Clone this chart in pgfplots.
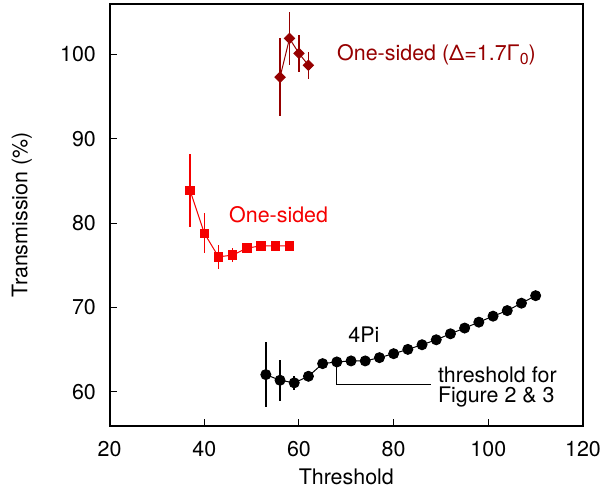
\documentclass[border=0pt]{standalone}
\usepackage{pgfplots}
\pgfplotsset{compat=1.18}
\usepackage{pgfplotstable}
\usepackage{fontspec}
\setmainfont{TeX Gyre Heros}
\definecolor{darkred}{RGB}{150,0,0}
\definecolor{myred}{RGB}{245,0,0}

% x  y  err
\pgfplotstableread{
x y e
53 62.04 3.9
56 61.37 2.45
59 61.06 0.85
62 61.84 0.4
65 63.34 0.2
68 63.54 0.2
71 63.66 0.2
74 63.66 0.2
77 64.05 0.2
80 64.52 0.2
83 65.03 0.2
86 65.58 0.2
89 66.17 0.2
92 66.88 0.2
95 67.56 0.2
98 68.26 0.2
101 68.97 0.2
104 69.63 0.2
107 70.51 0.2
110 71.40 0.2
}\fourpi

\pgfplotstableread{
x y e
37 83.88 4.3
40 78.81 2.4
43 76.01 1.45
46 76.21 0.85
49 77.04 0.5
52 77.31 0.2
55 77.31 0.2
58 77.31 0.2
}\onesided

\pgfplotstableread{
x y e
56 97.31 4.6
58 101.91 3.15
60 100.14 2.15
62 98.73 1.6
}\detuned

\begin{document}
\fontsize{10.75}{12}\selectfont
\begin{tikzpicture}
\begin{axis}[
    scale only axis,
    width=237.5pt, height=211.5pt,
    xmin=20, xmax=120,
    ymin=56, ymax=106,
    xtick={20,40,...,120},
    ytick={60,70,...,100},
    xtick pos=bottom, ytick pos=left,
    tick align=inside,
    major tick length=3.5pt,
    every tick/.style={black, line width=0.5pt},
    axis line style={line width=1pt},
    /pgf/number format/assume math mode=true,
    every tick label/.append style={font=\fontsize{10.75}{12}\selectfont},
    xticklabel style={yshift=-3.9pt},
    yticklabel style={xshift=-3.1pt},
    xlabel={Threshold},
    ylabel={Transmission (\%)},
    every axis x label/.style={at={(axis description cs:0.5,-0.1206)}, anchor=center},
    every axis y label/.style={at={(axis description cs:-0.1853,0.5)}, rotate=90, anchor=center},
    clip=false,
]
\addplot[black, line width=0.5pt, mark=*, mark size=2.5pt,
    error bars/.cd, y dir=both, y explicit, error mark=none,
    error bar style={line width=0.75pt}]
    table[x=x, y=y, y error=e] {\fourpi};
\addplot[myred, line width=0.5pt, mark=square*, mark size=2.1pt,
    error bars/.cd, y dir=both, y explicit, error mark=none,
    error bar style={line width=0.75pt}]
    table[x=x, y=y, y error=e] {\onesided};
\addplot[darkred, line width=0.5pt, mark=square*, mark size=1.8pt,
    mark options={rotate=45},
    error bars/.cd, y dir=both, y explicit, error mark=none,
    error bar style={line width=0.75pt}]
    table[x=x, y=y, y error=e] {\detuned};

\node[darkred, anchor=west, inner sep=0pt] at (axis cs:68,100)
    {One-sided (Δ=1.7Γ\raisebox{-1.9pt}{\fontsize{8}{8}\selectfont 0})};
\node[myred, inner sep=0pt] at (axis cs:55.7,81.05) {One-sided};
\node[black, inner sep=0pt] at (axis cs:73.7,66.82) {4Pi};
\draw[black, line width=0.5pt] (axis cs:67.9,62.99) -- (axis cs:67.9,60.9) -- (axis cs:87.9,60.9);
\node[black, anchor=north west, inner sep=0pt, align=left, font=\fontsize{10.75}{10}\selectfont]
    at (axis cs:89.3,62.99) {threshold for\\Figure 2 \& 3};
\end{axis}
\path ([shift={(-55pt,-33pt)}]current axis.south west) rectangle ([shift={(11.5pt,2pt)}]current axis.north east);
\end{tikzpicture}
\end{document}
